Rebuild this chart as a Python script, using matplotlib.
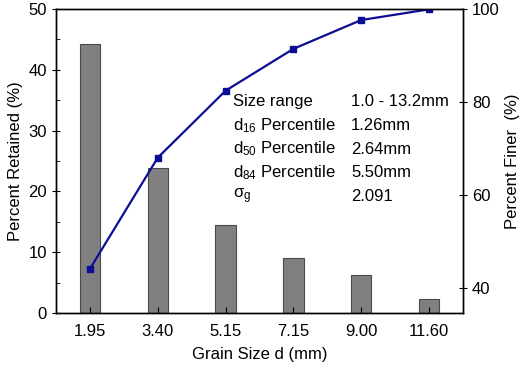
import matplotlib.pyplot as plt
import numpy as np

plt.rcParams['font.family'] = ['Liberation Sans', 'DejaVu Sans']
plt.rcParams['mathtext.fontset'] = 'custom'
plt.rcParams['mathtext.rm'] = 'Liberation Sans'
plt.rcParams['mathtext.it'] = 'Liberation Sans'

# data
sizes = ["1.95", "3.40", "5.15", "7.15", "9.00", "11.60"]
retained = [44.2, 23.8, 14.4, 9.1, 6.2, 2.3]
finer = [44.1, 68.0, 82.4, 91.4, 97.6, 99.9]

stat_names = ["Size range", "d$_{16}$ Percentile", "d$_{50}$ Percentile",
              "d$_{84}$ Percentile", r"$\mathrm{\sigma}_\mathrm{g}$"]
stat_values = ["1.0 - 13.2mm", "1.26mm", "2.64mm", "5.50mm", "2.091"]

fig = plt.figure(figsize=(5.26, 3.70), dpi=100)
ax = fig.add_axes([0.1065, 0.154, 0.7735, 0.822])
x = np.arange(len(sizes))

ax.bar(x, retained, width=0.3, color="#808080", edgecolor="#4a4a4a", linewidth=0.8)
ax.set_xlim(-0.5, 5.5)
ax.set_ylim(0, 50)
ax.set_xticks(x)
ax.set_xticklabels(sizes)
ax.set_yticks([0, 10, 20, 30, 40, 50])
ax.set_yticks([5, 15, 25, 35, 45], minor=True)
ax.tick_params(axis='y', which='major', direction='inout', length=6, labelsize=12)
ax.tick_params(axis='y', which='minor', direction='in', length=3)
ax.tick_params(axis='x', direction='in', length=4, labelsize=12, pad=8)
ax.set_ylabel("Percent Retained (%)", fontsize=12, labelpad=4)
ax.set_xlabel("Grain Size d (mm)", fontsize=12, labelpad=6)

ax2 = ax.twinx()
ax2.plot(x, finer, color="#0c0c96", linewidth=1.6, marker='s', markersize=4.5)
ax2.set_ylim(34.6, 100)
ax2.set_yticks([40, 60, 80, 100])
ax2.tick_params(axis='y', direction='inout', length=6, labelsize=12)
ax2.set_ylabel("Percent Finer  (%)", fontsize=12, labelpad=4)

for i, (n, v) in enumerate(zip(stat_names, stat_values)):
    yy = 0.695 - i * 0.078
    ax.text(0.435, yy, n, transform=ax.transAxes, fontsize=12, va='center')
    ax.text(0.725, yy, v, transform=ax.transAxes, fontsize=12, va='center')

for a in (ax, ax2):
    for s in a.spines.values():
        s.set_linewidth(1.0)

fig.savefig("out.png", dpi=100)
